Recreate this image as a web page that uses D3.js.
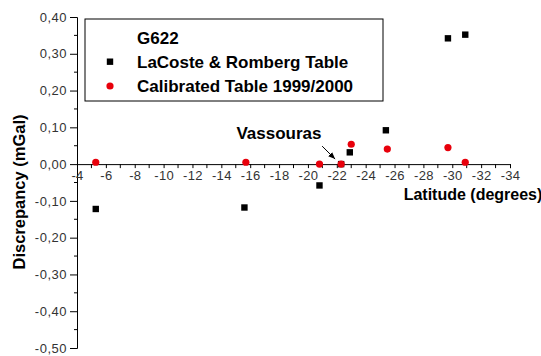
<!DOCTYPE html>
<html><head><meta charset="utf-8">
<script src="https://cdn.jsdelivr.net/npm/d3@7"></script>
<style>body{margin:0;background:#fff}svg{display:block}</style>
</head><body>
<svg id="c" width="541" height="356"></svg>
<script>
const lrLat = [-5.3, -15.6, -20.8, -22.3, -22.9, -25.4, -29.7, -30.9];
const lrVal = [-0.122, -0.118, -0.058, 0.000, 0.032, 0.092, 0.342, 0.352];
const calLat = [-5.3, -15.7, -20.8, -22.3, -23.0, -25.5, -29.7, -30.9];
const calVal = [0.005, 0.005, 0.000, 0.000, 0.054, 0.041, 0.045, 0.005];
const xTicks = [-4,-6,-8,-10,-12,-14,-16,-18,-20,-22,-24,-26,-28,-30,-32,-34];
const yTicks = [0.4,0.3,0.2,0.1,0,-0.1,-0.2,-0.3,-0.4,-0.5];
const legendTitle = "G622";
const seriesNames = ["LaCoste & Romberg Table", "Calibrated Table 1999/2000"];

const svg = d3.select("#c");
const font = "'Liberation Sans', Arial, sans-serif";
const x = d3.scaleLinear().domain([-4, -34]).range([77, 510]);
const y = d3.scaleLinear().domain([0.4, -0.5]).range([17, 348]);

const fmt = d => d3.format(".2f")(d).replace(".", ",").replace("−","-");

// Y axis
const yAx = svg.append("g").attr("transform", `translate(${x(-4)},0)`)
  .call(d3.axisLeft(y).tickValues(yTicks).tickSize(7).tickPadding(3).tickFormat(fmt));
yAx.selectAll("text").attr("font-family", font).attr("font-size", 13).attr("fill", "#333").attr("letter-spacing", 0.5);
const yMinor = d3.range(-0.45, 0.4, 0.1);
yAx.append("g").selectAll("line").data(yMinor).join("line")
  .attr("x1", -3).attr("x2", 0).attr("y1", d => y(d)).attr("y2", d => y(d)).attr("stroke", "#000");

// X axis
const xAx = svg.append("g").attr("transform", `translate(0,${y(0)})`)
  .call(d3.axisBottom(x).tickValues(xTicks).tickSize(4).tickPadding(3).tickFormat(d => String(d)));
xAx.selectAll("text").attr("font-family", font).attr("font-size", 13).attr("fill", "#333").attr("letter-spacing", 0.3);
const xMinor = d3.range(-5, -34, -2);
xAx.append("g").selectAll("line").data(xMinor).join("line")
  .attr("y1", 0).attr("y2", 4).attr("x1", d => x(d)).attr("x2", d => x(d)).attr("stroke", "#000");
svg.selectAll(".domain").attr("stroke", "#000");
svg.selectAll(".tick line").attr("stroke", "#000");

// axis titles
svg.append("text").attr("x", 473).attr("y", 200).attr("text-anchor", "middle")
  .attr("font-family", font).attr("font-size", 16).attr("font-weight", "bold").text("Latitude (degrees)");
svg.append("text").attr("transform", "translate(25,192) rotate(-90)").attr("text-anchor", "middle")
  .attr("font-family", font).attr("font-size", 16.5).attr("font-weight", "bold").text("Discrepancy (mGal)");

// data
svg.append("g").selectAll("rect").data(lrLat.map((d, i) => [d, lrVal[i]])).join("rect")
  .attr("x", d => x(d[0]) - 3.2).attr("y", d => y(d[1]) - 3.2).attr("width", 6.4).attr("height", 6.4).attr("fill", "#000");
svg.append("g").selectAll("circle").data(calLat.map((d, i) => [d, calVal[i]])).join("circle")
  .attr("cx", d => x(d[0])).attr("cy", d => y(d[1])).attr("r", 3.6).attr("fill", "#e8000b");

// Vassouras annotation
svg.append("defs").append("marker").attr("id", "ah").attr("viewBox", "0 0 10 10").attr("refX", 10).attr("refY", 5)
  .attr("markerWidth", 7).attr("markerHeight", 7).attr("orient", "auto")
  .append("path").attr("d", "M0,1 L10,5 L0,9 Z").attr("fill", "#000");
svg.append("line").attr("x1", x(-22.3) - 19).attr("y1", y(0) - 18).attr("x2", x(-22.3) - 6).attr("y2", y(0) - 5)
  .attr("stroke", "#000").attr("stroke-width", 1).attr("marker-end", "url(#ah)");
svg.append("text").attr("x", 279).attr("y", 139).attr("text-anchor", "middle")
  .attr("font-family", font).attr("font-size", 17).attr("font-weight", "bold").text("Vassouras");

// legend
const lg = svg.append("g");
lg.append("rect").attr("x", 85).attr("y", 19).attr("width", 298).attr("height", 82).attr("fill", "#fff").attr("stroke", "#000");
lg.append("text").attr("x", 137).attr("y", 43.5).attr("font-family", font).attr("font-size", 17).attr("font-weight", "bold").text(legendTitle);
lg.append("rect").attr("x", 106.8).attr("y", 58.5).attr("width", 6.4).attr("height", 6.4).attr("fill", "#000");
lg.append("text").attr("x", 137).attr("y", 68).attr("font-family", font).attr("font-size", 17).attr("font-weight", "bold").text(seriesNames[0]);
lg.append("circle").attr("cx", 110).attr("cy", 86).attr("r", 3.6).attr("fill", "#e8000b");
lg.append("text").attr("x", 137).attr("y", 92).attr("font-family", font).attr("font-size", 17).attr("font-weight", "bold").text(seriesNames[1]);
</script>
</body></html>
